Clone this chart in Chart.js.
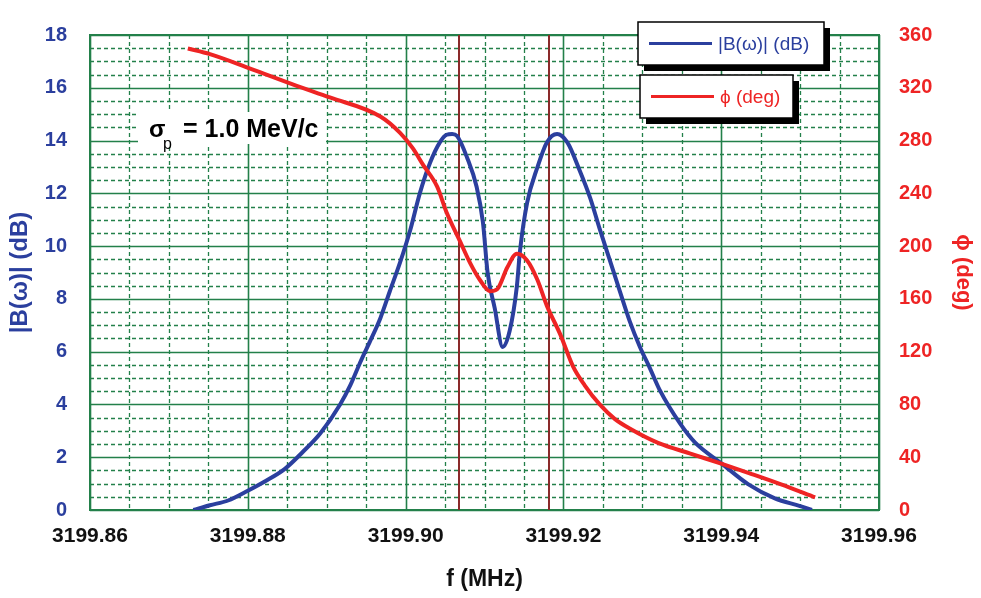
<!DOCTYPE html>
<html>
<head>
<meta charset="utf-8">
<script src="https://cdn.jsdelivr.net/npm/chart.js@4.4.1/dist/chart.umd.min.js"></script>
<style>
  body { margin: 0; background: #fff; }
  #wrap { width: 981px; height: 598px; }
</style>
</head>
<body>
<div id="wrap"><canvas id="chart" width="981" height="598"></canvas></div>
<script>
// |B(w)| in dB vs frequency
const freqB = [3199.8731, 3199.8752, 3199.8775, 3199.8800, 3199.8822, 3199.8847, 3199.8869, 3199.8892,
  3199.8917, 3199.8930, 3199.8942, 3199.8955, 3199.8968, 3199.8980, 3199.8993, 3199.9006, 3199.9018,
  3199.9031, 3199.9044, 3199.9052, 3199.9059, 3199.9065, 3199.9078, 3199.9090, 3199.9098, 3199.9104,
  3199.9113, 3199.9123, 3199.9132, 3199.9141, 3199.9145, 3199.9154, 3199.9167, 3199.9179, 3199.9192,
  3199.9205, 3199.9221, 3199.9234, 3199.9246, 3199.9259, 3199.9272, 3199.9284, 3199.9297, 3199.9310,
  3199.9322, 3199.9348, 3199.9367, 3199.9401, 3199.9434, 3199.9468, 3199.9500, 3199.9515];
const magB = [0.0, 0.18, 0.36, 0.73, 1.09, 1.56, 2.18, 2.91,
  4.0, 4.73, 5.56, 6.4, 7.27, 8.29, 9.38, 10.62, 12.0,
  13.16, 13.96, 14.22, 14.25, 14.18, 13.35, 12.25, 10.9, 8.98,
  7.64, 6.18, 6.8, 8.47, 9.82, 11.64, 12.98, 13.93, 14.25,
  13.93, 12.84, 11.82, 10.65, 9.45, 8.25, 7.16, 6.18, 5.35,
  4.55, 3.27, 2.55, 1.75, 0.98, 0.44, 0.15, 0.0];

// phase in degrees vs frequency
const freqP = [3199.8724, 3199.8752, 3199.8803, 3199.8862, 3199.8904, 3199.8968, 3199.8993, 3199.9009,
  3199.9022, 3199.9040, 3199.9052, 3199.9069, 3199.9082, 3199.9094, 3199.9107, 3199.9116, 3199.9129,
  3199.9141, 3199.9154, 3199.9167, 3199.9179, 3199.9196, 3199.9212, 3199.9227, 3199.9246, 3199.9265,
  3199.9284, 3199.9320, 3199.9360, 3199.9401, 3199.9437, 3199.9475, 3199.9519];
const phaseP = [349.8, 345.5, 334.6, 321.5, 312.7, 298.2, 285.8, 274.2,
  261.8, 245.1, 225.5, 203.6, 186.9, 174.5, 165.8, 167.3, 184.0,
  194.2, 189.1, 174.5, 154.9, 133.1, 109.1, 94.5, 80.0, 69.1,
  61.8, 50.9, 42.9, 34.9, 27.6, 19.6, 9.5];

const xTicks = [3199.86, 3199.88, 3199.90, 3199.92, 3199.94, 3199.96];
const markerFreqs = [3199.9068, 3199.9182];

const blue = '#2B3F9E';
const red = '#EE2424';
const green = '#23804A';
const brown = '#8A2A2A';
const font = '"Liberation Sans", Arial, sans-serif';

const plotGrid = {
    id: 'plotGrid',
    beforeDatasetsDraw(chart) {
        const {ctx, chartArea: a, scales} = chart;
        const xs = scales.x, ys = scales.y;
        ctx.save();
        ctx.strokeStyle = green;
        // minor lines, dashed
        ctx.lineWidth = 1.3;
        ctx.setLineDash([4, 3]);
        for (let i = 1; i < 20; i++) {
            if (i % 4 === 0) continue;
            const px = Math.round(xs.getPixelForValue(xs.min + i * 0.005)) + 0.5;
            ctx.beginPath(); ctx.moveTo(px, a.top); ctx.lineTo(px, a.bottom); ctx.stroke();
        }
        for (let i = 1; i < 36; i++) {
            if (i % 4 === 0) continue;
            const py = Math.round(ys.getPixelForValue(i * 0.5)) + 0.5;
            ctx.beginPath(); ctx.moveTo(a.left, py); ctx.lineTo(a.right, py); ctx.stroke();
        }
        // major lines
        ctx.setLineDash([]);
        ctx.lineWidth = 1.6;
        xTicks.forEach(v => {
            const px = Math.round(xs.getPixelForValue(v)) + 0.5;
            ctx.beginPath(); ctx.moveTo(px, a.top); ctx.lineTo(px, a.bottom); ctx.stroke();
        });
        for (let v = 0; v <= 18; v += 2) {
            const py = Math.round(ys.getPixelForValue(v)) + 0.5;
            ctx.beginPath(); ctx.moveTo(a.left, py); ctx.lineTo(a.right, py); ctx.stroke();
        }
        ctx.lineWidth = 2;
        ctx.strokeRect(a.left, a.top, a.right - a.left, a.bottom - a.top);

        // peak markers
        ctx.strokeStyle = brown;
        ctx.lineWidth = 2;
        markerFreqs.forEach(f => {
            const px = Math.round(xs.getPixelForValue(f));
            ctx.beginPath(); ctx.moveTo(px, a.top); ctx.lineTo(px, a.bottom); ctx.stroke();
        });

        // sigma_p note
        ctx.fillStyle = '#fff';
        ctx.fillRect(138, 112, 188, 32);
        ctx.fillStyle = '#000';
        ctx.textBaseline = 'alphabetic';
        ctx.font = 'bold 24px ' + font;
        ctx.fillText('σ', 149, 137);
        ctx.font = '16px ' + font;
        ctx.fillText('p', 163, 149);
        ctx.font = 'bold 25px ' + font;
        ctx.fillText('= 1.0 MeV/c', 183, 137);
        ctx.restore();
    }
};

function legendBox(ctx, x, y, w, h, color, label) {
    ctx.fillStyle = '#000';
    ctx.fillRect(x + 6, y + 6, w, h);
    ctx.fillStyle = '#fff';
    ctx.fillRect(x, y, w, h);
    ctx.strokeStyle = '#000';
    ctx.lineWidth = 1.5;
    ctx.strokeRect(x, y, w, h);
    ctx.strokeStyle = color;
    ctx.lineWidth = 3;
    ctx.beginPath();
    ctx.moveTo(x + 11, y + h / 2);
    ctx.lineTo(x + 74, y + h / 2);
    ctx.stroke();
    ctx.fillStyle = color;
    ctx.font = '19px ' + font;
    ctx.textBaseline = 'middle';
    ctx.fillText(label, x + 80, y + h / 2 + 1);
}

const boxLegend = {
    id: 'boxLegend',
    afterDraw(chart) {
        const ctx = chart.ctx;
        ctx.save();
        legendBox(ctx, 638, 22, 186, 43, blue, '|B(ω)| (dB)');
        legendBox(ctx, 640, 75, 153, 43, red, 'ϕ (deg)');
        ctx.restore();
    }
};

const chart = new Chart(document.getElementById('chart'), {
    type: 'line',
    data: {
        datasets: [
            {
                label: '|B(ω)| (dB)',
                data: freqB.map((f, i) => ({x: f, y: magB[i]})),
                borderColor: blue,
                borderWidth: 4,
                pointRadius: 0,
                cubicInterpolationMode: 'monotone',
                yAxisID: 'y',
                order: 2
            },
            {
                label: 'ϕ (deg)',
                data: freqP.map((f, i) => ({x: f, y: phaseP[i]})),
                borderColor: red,
                borderWidth: 4,
                pointRadius: 0,
                cubicInterpolationMode: 'monotone',
                yAxisID: 'y1',
                order: 1
            }
        ]
    },
    options: {
        responsive: false,
        animation: false,
        layout: {padding: {top: 15, left: 0, right: 0, bottom: 0}},
        plugins: {
            legend: {display: false},
            tooltip: {enabled: false}
        },
        scales: {
            x: {
                type: 'linear',
                min: 3199.86,
                max: 3199.96,
                afterBuildTicks: s => { s.ticks = xTicks.map(v => ({value: v})); },
                afterFit: s => { s.height = 88; },
                grid: {display: false, drawTicks: false},
                border: {display: false},
                ticks: {
                    padding: 14,
                    color: '#111',
                    maxRotation: 0,
                    font: {family: font, size: 21, weight: 'bold'},
                    callback: v => Number(v).toFixed(2)
                },
                title: {
                    display: true,
                    text: 'f (MHz)',
                    color: '#111',
                    padding: {top: 0, bottom: 5},
                    font: {family: font, size: 23, weight: 'bold'}
                }
            },
            y: {
                position: 'left',
                min: 0,
                max: 18,
                afterFit: s => { s.width = 90; },
                grid: {display: false, drawTicks: false},
                border: {display: false},
                ticks: {
                    stepSize: 2,
                    padding: 23,
                    color: blue,
                    font: {family: font, size: 20, weight: 'bold'}
                },
                title: {
                    display: true,
                    text: '|B(ω)| (dB)',
                    color: blue,
                    padding: {top: 6, bottom: 0},
                    font: {family: font, size: 24, weight: 'bold'}
                }
            },
            y1: {
                position: 'right',
                min: 0,
                max: 360,
                afterFit: s => { s.width = 102; },
                grid: {display: false, drawTicks: false},
                border: {display: false},
                ticks: {
                    stepSize: 40,
                    padding: 20,
                    color: red,
                    font: {family: font, size: 20, weight: 'bold'}
                },
                title: {
                    display: true,
                    text: 'ϕ (deg)',
                    color: red,
                    padding: {top: 5, bottom: 0},
                    font: {family: font, size: 22, weight: 'bold'}
                }
            }
        }
    },
    plugins: [plotGrid, boxLegend]
});
</script>
</body>
</html>
